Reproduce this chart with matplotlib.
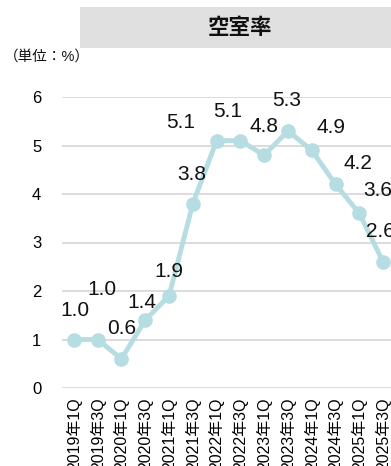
import matplotlib.pyplot as plt
from matplotlib.patches import Rectangle

plt.rcParams['font.family'] = ['Liberation Sans', 'Noto Sans CJK JP', 'DejaVu Sans']

quarters = ['2019年1Q', '2019年3Q', '2020年1Q', '2020年3Q', '2021年1Q', '2021年3Q',
            '2022年1Q', '2022年3Q', '2023年1Q', '2023年3Q', '2024年1Q', '2024年3Q',
            '2025年1Q', '2025年3Q']
vacancy = [1.0, 1.0, 0.6, 1.4, 1.9, 3.8, 5.1, 5.1, 4.8, 5.3, 4.9, 4.2, 3.6, 2.6]

# label offsets from each point, in pixels (dx, dy up)
label_offsets = [(1, 29), (4, 50), (0, 30), (-3, 18), (0, 24), (-1, 29), (-36, 18),
                 (-13, 29), (0, 29), (-1, 30), (19, 23), (22, 21), (18, 23), (-3, 30)]

W, H = 391, 466
fig = plt.figure(figsize=(W / 100, H / 100), dpi=100)

# title band
fig.patches.append(Rectangle((80 / W, 1 - 48 / H), 1 - 80 / W, 41 / H,
                             transform=fig.transFigure, facecolor='#e0e0e0',
                             edgecolor='none'))
fig.text(240 / W, 1 - 28 / H, '空室率', ha='center', va='center',
         fontsize=15.5, fontweight='bold', color='#111111')
fig.text(4 / W, 1 - 57 / H, '（単位：%）', ha='left', va='center',
         fontsize=10.5, color='#111111')

ax = fig.add_axes([62 / W, 1 - 388 / H, 333 / W, 291 / H])
x = list(range(len(vacancy)))
ax.plot(x, vacancy, '-o', color='#b5dde2', lw=3.5, ms=9.5, clip_on=False, zorder=3)

for i, v in enumerate(vacancy):
    dx, dy = label_offsets[i]
    ax.annotate(f'{v:.1f}', (i, v), xytext=(dx * 0.72, dy * 0.72),
                textcoords='offset points', ha='center', va='center',
                fontsize=15, color='#111111', annotation_clip=False)

ax.set_xlim(-0.5, len(vacancy) - 0.5)
ax.set_ylim(0, 6)
ax.set_yticks(range(0, 7))
ax.set_xticks(x)
ax.set_xticklabels(quarters, rotation=90, fontsize=11.5)
ax.tick_params(axis='y', length=0, pad=15, labelsize=12)
ax.tick_params(axis='x', length=0, pad=7)
ax.grid(axis='y', color='#d9d9d9', lw=1.3)
ax.set_axisbelow(True)
for s in ax.spines.values():
    s.set_visible(False)

fig.savefig('out.png', dpi=100)
